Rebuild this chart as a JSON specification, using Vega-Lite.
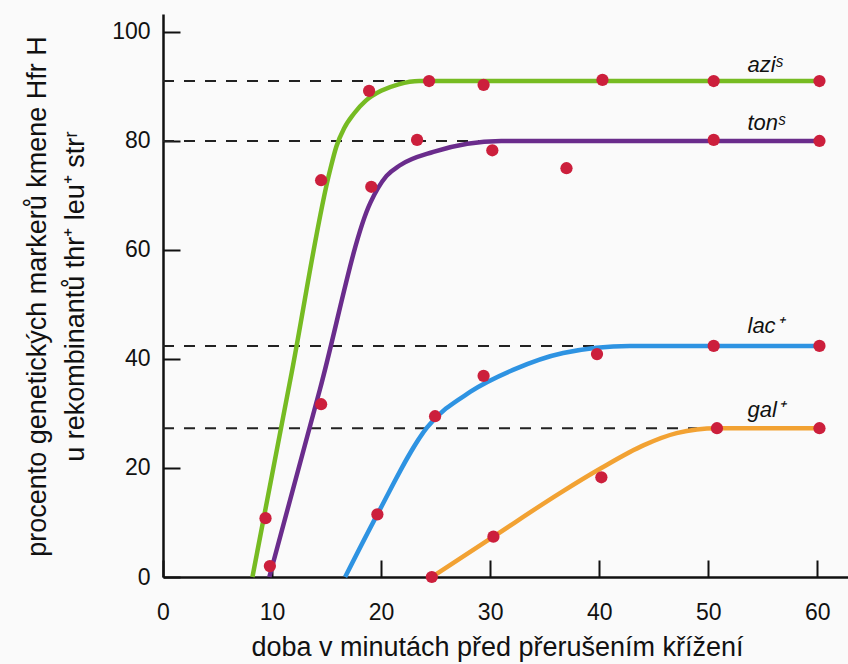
{
  "$schema": "https://vega.github.io/schema/vega-lite/v6.json",
  "width": 687,
  "height": 563,
  "autosize": "none",
  "padding": {"left": 163, "top": 14, "right": 0, "bottom": 87},
  "background": "#fafafa",
  "config": {
    "view": {"stroke": null},
    "font": "Liberation Sans, Arial, sans-serif",
    "axis": {
      "grid": false,
      "labelFlush": false,
      "domainColor": "#111111",
      "domainWidth": 2.5,
      "tickColor": "#111111",
      "tickWidth": 2,
      "tickSize": -17,
      "labelColor": "#111111",
      "titleColor": "#111111",
      "labelFontSize": 23,
      "titleFontSize": 27,
      "titleFontWeight": "normal",
      "labelFont": "Liberation Sans, Arial, sans-serif",
      "titleFont": "Liberation Sans, Arial, sans-serif"
    }
  },
  "datasets": {
    "dashes": [
      {"x": 0, "x2": 23.5, "y": 91},
      {"x": 0, "x2": 29, "y": 80},
      {"x": 0, "x2": 40, "y": 42.4},
      {"x": 0, "x2": 49, "y": 27.3}
    ],
    "curves": [
      {"series": "azi", "x": 8.2, "y": 0},
      {"series": "azi", "x": 11.8, "y": 37.5},
      {"series": "azi", "x": 15.3, "y": 74.5},
      {"series": "azi", "x": 15.9, "y": 79.0},
      {"series": "azi", "x": 16.6, "y": 82.3},
      {"series": "azi", "x": 17.5, "y": 85.0},
      {"series": "azi", "x": 18.6, "y": 87.4},
      {"series": "azi", "x": 20.0, "y": 89.2},
      {"series": "azi", "x": 21.6, "y": 90.4},
      {"series": "azi", "x": 23.5, "y": 91},
      {"series": "azi", "x": 60.2, "y": 91},
      {"series": "ton", "x": 9.75, "y": 0},
      {"series": "ton", "x": 14.4, "y": 34.5},
      {"series": "ton", "x": 19.0, "y": 68.6},
      {"series": "ton", "x": 20.5, "y": 73.6},
      {"series": "ton", "x": 21.7, "y": 75.5},
      {"series": "ton", "x": 24.8, "y": 78},
      {"series": "ton", "x": 27.9, "y": 79.5},
      {"series": "ton", "x": 31, "y": 80},
      {"series": "ton", "x": 60.2, "y": 80},
      {"series": "lac", "x": 16.7, "y": 0},
      {"series": "lac", "x": 19.66, "y": 11.5},
      {"series": "lac", "x": 24.2, "y": 27.4},
      {"series": "lac", "x": 28.2, "y": 34},
      {"series": "lac", "x": 32.1, "y": 38},
      {"series": "lac", "x": 36.7, "y": 41.1},
      {"series": "lac", "x": 42.8, "y": 42.4},
      {"series": "lac", "x": 60.2, "y": 42.4},
      {"series": "gal", "x": 24.65, "y": 0},
      {"series": "gal", "x": 30.3, "y": 7.4},
      {"series": "gal", "x": 36.4, "y": 15.4},
      {"series": "gal", "x": 40.2, "y": 20.0},
      {"series": "gal", "x": 44.1, "y": 24.2},
      {"series": "gal", "x": 47.1, "y": 26.4},
      {"series": "gal", "x": 50.8, "y": 27.3},
      {"series": "gal", "x": 60.2, "y": 27.3}
    ],
    "points": [
      {"x": 9.4, "y": 10.8},
      {"x": 9.8, "y": 2.0},
      {"x": 14.5, "y": 72.8},
      {"x": 14.5, "y": 31.7},
      {"x": 18.9, "y": 89.2},
      {"x": 19.1, "y": 71.6},
      {"x": 19.66, "y": 11.5},
      {"x": 23.3, "y": 80.2},
      {"x": 24.4, "y": 91},
      {"x": 24.95, "y": 29.5},
      {"x": 24.65, "y": 0},
      {"x": 29.4, "y": 90.3},
      {"x": 30.2, "y": 78.3},
      {"x": 29.4, "y": 36.9},
      {"x": 30.3, "y": 7.4},
      {"x": 37.0, "y": 75},
      {"x": 40.3, "y": 91.2},
      {"x": 39.8, "y": 40.9},
      {"x": 40.2, "y": 18.3},
      {"x": 50.5, "y": 91},
      {"x": 50.5, "y": 80.2},
      {"x": 50.5, "y": 42.4},
      {"x": 50.8, "y": 27.3},
      {"x": 60.2, "y": 91},
      {"x": 60.2, "y": 80},
      {"x": 60.2, "y": 42.4},
      {"x": 60.2, "y": 27.3}
    ],
    "labels": [
      {"x": 53.6, "y": 92.7, "label": "aziˢ"},
      {"x": 53.6, "y": 82.0, "label": "tonˢ"},
      {"x": 53.6, "y": 44.8, "label": "lac⁺"},
      {"x": 53.6, "y": 29.4, "label": "gal⁺"}
    ]
  },
  "encoding": {
    "x": {
      "field": "x",
      "type": "quantitative",
      "scale": {"domain": [0, 63], "nice": false, "zero": false},
      "axis": {
        "values": [0, 10, 20, 30, 40, 50, 60],
        "labelPadding": 41,
        "title": "doba v minutách před přerušením křížení",
        "titleX": 334,
        "titleY": 78,
        "titleAlign": "center",
        "titleBaseline": "alphabetic"
      }
    },
    "y": {
      "field": "y",
      "type": "quantitative",
      "scale": {"domain": [0, 103.3], "nice": false, "zero": false},
      "axis": {
        "values": [0, 20, 40, 60, 80, 100],
        "labelPadding": 30,
        "title": ["procento genetických markerů kmene Hfr H", "u rekombinantů thr⁺ leu⁺ strʳ"],
        "titleAngle": -90,
        "titleX": -118,
        "titleY": 282,
        "titleAlign": "center",
        "titleBaseline": "alphabetic",
        "titleLineHeight": 38
      }
    }
  },
  "layer": [
    {
      "data": {"name": "dashes"},
      "mark": {"type": "rule", "color": "#222222", "strokeWidth": 2, "strokeDash": [11, 10]},
      "encoding": {"x2": {"field": "x2"}}
    },
    {
      "data": {"name": "curves"},
      "mark": {"type": "line", "interpolate": "monotone", "strokeWidth": 4.5, "strokeCap": "butt"},
      "encoding": {
        "color": {
          "field": "series",
          "type": "nominal",
          "scale": {"domain": ["azi", "ton", "lac", "gal"], "range": ["#76bb22", "#6a2c8c", "#2e93e2", "#f2a233"]},
          "legend": null
        }
      }
    },
    {
      "data": {"name": "points"},
      "mark": {"type": "circle", "size": 150, "color": "#cc1f3c", "opacity": 1}
    },
    {
      "data": {"name": "labels"},
      "mark": {"type": "text", "align": "left", "baseline": "alphabetic", "fontSize": 22, "fontStyle": "italic", "color": "#111111", "font": "Liberation Sans, Arial, sans-serif"},
      "encoding": {"text": {"field": "label"}}
    }
  ]
}
